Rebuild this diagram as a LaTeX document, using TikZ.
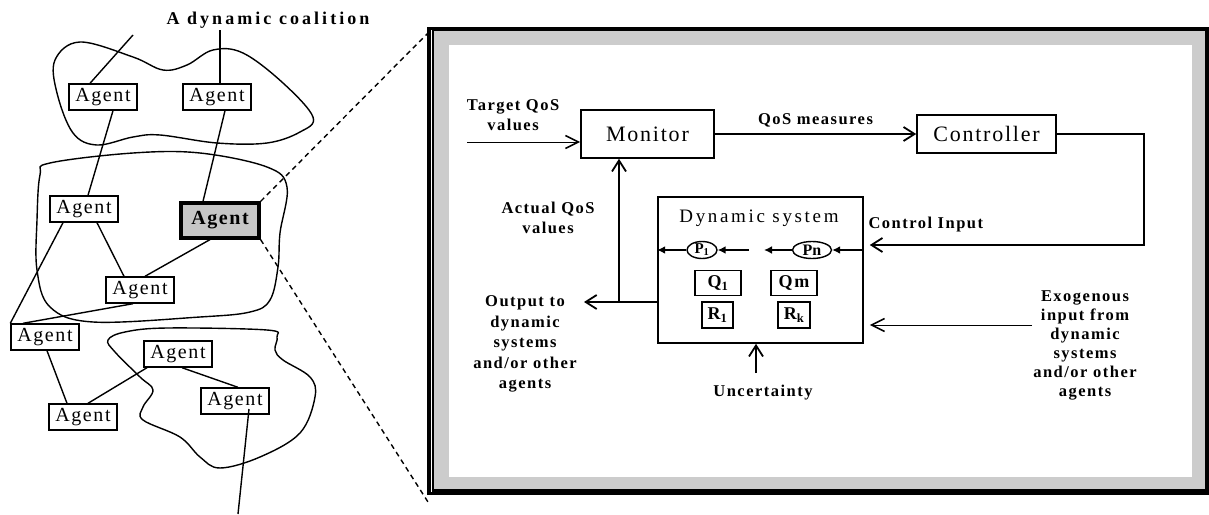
\documentclass[tikz,border=0pt]{standalone}
\usepackage{fontspec}
\setmainfont{Liberation Serif}
\newfontfamily\agfont[LetterSpace=8]{Liberation Serif}
\newfontfamily\lbfont[LetterSpace=9]{Liberation Serif}
\newfontfamily\dsfont[LetterSpace=14]{Liberation Serif}
\newfontfamily\ttlfont[LetterSpace=17]{Liberation Serif}
\usetikzlibrary{arrows.meta,shapes.geometric}

\begin{document}
\begin{tikzpicture}[x=1pt, y=-1pt,
    agent/.style={draw, line width=1.4pt, fill=white, inner sep=0pt, minimum width=68pt, minimum height=26pt, font=\agfont\fontsize{20}{22}\selectfont},
    link/.style={line width=1.4pt},
    blob/.style={line width=1.4pt},
    block/.style={draw, line width=1.6pt, inner sep=0pt, font=\agfont\fontsize{22}{24}\selectfont},
    lbl/.style={align=center, font=\lbfont\bfseries\fontsize{16.5}{20.5}\selectfont},
    par/.style={draw, line width=1.4pt, inner sep=0pt, font=\lbfont\bfseries\fontsize{18}{19}\selectfont},
    arr/.style={line width=1.8pt, -{Straight Barb[length=11pt,width=14pt,line width=1.8pt]}},
    thinarr/.style={line width=1pt, -{Straight Barb[length=13pt,width=13pt,line width=1.6pt]}},
    flow/.style={line width=1.8pt, -{Latex[length=8pt,width=8pt]}}]
    \useasboundingbox (0,0) rectangle (1209,514);

    % left half: coalitions of agents
    \node[font=\ttlfont\bfseries\fontsize{18}{20}\selectfont] (title) at (268,20) {A dynamic coalition};

    \draw[blob] plot[smooth cycle, tension=0.6] coordinates {(55,60) (80,42) (133,57) (163,70) (187,65) (213,50) (243,53) (283,83) (313,117) (300,132) (267,143) (217,143) (160,135) (133,137) (97,145) (73,133) (57,93)};
    \draw[blob] plot[smooth cycle, tension=0.6] coordinates {(40,175) (50,163) (133,153) (200,153) (267,167) (287,187) (280,233) (278,267) (270,300) (250,312) (200,317) (93,322) (50,307) (37,270) (37,220)};
    \draw[blob] plot[smooth cycle, tension=0.6] coordinates {(108,340) (125,332) (167,328) (267,330) (277,337) (275,350) (283,360) (310,377) (315,397) (300,433) (260,457) (220,468) (200,457) (180,437) (143,420) (143,407) (153,390) (140,377) (115,352)};

    \coordinate (in1) at (133,35);
    \coordinate (in2) at (220,30);
    \coordinate (out1) at (238,514);

    \node[agent] (ta) at (103,97) {Agent};
    \node[agent] (tb) at (217,97) {Agent};
    \node[agent] (ma) at (84,209) {Agent};
    \node[agent, fill=gray!45, line width=3.2pt, minimum width=78pt, minimum height=35pt, font=\agfont\bfseries\fontsize{20}{22}\selectfont] (hl) at (220,220.5) {Agent};
    \node[agent] (mb) at (140,290) {Agent};
    \node[agent] (la) at (45,337) {Agent};
    \node[agent] (bl) at (83,417) {Agent};
    \node[agent] (ba) at (178,354) {Agent};
    \node[agent] (bb) at (235,401) {Agent};

    \draw[link] ([xshift=-13pt]ta.north) -- (in1);
    \draw[link] ([xshift=3pt]tb.north) -- (in2);
    \draw[link] ([xshift=10pt]ta.south) -- ([xshift=4pt]ma.north);
    \draw[link] ([xshift=8pt]tb.south) -- ([xshift=-17pt]hl.north);
    \draw[link] ([xshift=-21pt]ma.south) -- (la.north west);
    \draw[link] ([xshift=13pt]ma.south) -- ([xshift=-16pt]mb.north);
    \draw[link] ([xshift=-10pt]hl.south) -- ([xshift=5pt]mb.north);
    \draw[link] ([xshift=-7pt]mb.south) -- ([xshift=-22pt]la.north);
    \draw[link] ([xshift=2pt]la.south) -- ([xshift=-16pt]bl.north);
    \draw[link] ([xshift=5pt]bl.north) -- ([xshift=-31pt]ba.south);
    \draw[link] ([xshift=4pt]ba.south) -- ([xshift=3pt]bb.north);
    \draw[link] ([xshift=14pt,yshift=-8pt]bb.center) -- (out1);

    % zoom frame
    \coordinate (fa) at (427,27);
    \coordinate (fb) at (1209,495);
    \fill[black] (fa) rectangle (fb);
    \fill[gray!40] (434,31) rectangle (1205,489);
    \draw[white, line width=1pt] (431,30) -- (431,492);
    \fill[white] (449,45) rectangle (1192,477);

    \draw[link, dashed, dash pattern=on 5pt off 4pt] (hl.north east) -- (428,33);
    \draw[link, dashed, dash pattern=on 5pt off 4pt] (hl.south east) -- (428,502);

    % right half: control loop
    \node[block, minimum width=133pt, minimum height=48pt] (mon) at (647.5,134) {Monitor};
    \node[block, minimum width=139pt, minimum height=38pt] (ctl) at (986.5,134) {Controller};
    \node[block, minimum width=205pt, minimum height=146pt] (dyn) at (760.5,270) {};
    \node[font=\dsfont\fontsize{19}{21}\selectfont] (dname) at (759,218) {Dynamic system};

    \node[ellipse, draw, line width=1.4pt, inner sep=0pt, minimum width=30pt, minimum height=17pt, font=\bfseries\fontsize{15}{16}\selectfont] (p1) at (702,250) {P\textsubscript{1}};
    \node[ellipse, draw, line width=1.4pt, inner sep=0pt, minimum width=39pt, minimum height=17pt, font=\bfseries\fontsize{16}{17}\selectfont] (pn) at (812,250) {Pn};
    \coordinate (g1) at (764,250);
    \coordinate (g2) at (749,250);

    \node[par, minimum width=46pt, minimum height=25pt] (q1) at (718,283) {Q\textsubscript{1}};
    \node[par, minimum width=46pt, minimum height=25pt] (qm) at (794,283) {Qm};
    \node[par, minimum width=31pt, minimum height=26pt] (r1) at (717.5,315) {R\textsubscript{1}};
    \node[par, minimum width=32pt, minimum height=26pt] (rk) at (794,315) {R\textsubscript{k}};

    \draw[flow] ([yshift=20pt]dyn.east) -- (pn.east);
    \draw[flow] (pn.west) -- (g1);
    \draw[flow] (g2) -- (p1.east);
    \draw[flow] (p1.west) -- ([yshift=20pt]dyn.west);

    \node[lbl] (tgt) at (513,115) {Target QoS\\values};
    \coordinate (tin) at (467,142);
    \draw[thinarr] (tin) -- (tin -| mon.west);

    \draw[arr] (mon.east) -- (ctl.west) node[lbl, midway, above=3pt] (qos) {QoS measures};
    \draw[arr, shorten >=6pt] (ctl.east) -- ++(87,0) |- ([yshift=25pt]dyn.east);
    \node[lbl, anchor=west] (cin) at (865,225) {Control Input};

    \coordinate (fbk) at (619,302);
    \coordinate (outp) at (584,302);
    \draw[arr] ([yshift=-32pt]dyn.west) -- (outp);
    \draw[arr] (fbk) -- (fbk |- mon.south);
    \node[lbl] (act) at (548,218) {Actual QoS\\values};
    \node[lbl] (outl) at (525,344) {Output to\\dynamic\\systems\\and/or other\\agents};

    \coordinate (unc) at (756,373);
    \draw[arr] (unc) -- (unc |- dyn.south);
    \node[lbl] (uncl) at (763,393) {Uncertainty};

    \coordinate (exo) at (1032,325);
    \draw[thinarr, shorten >=6pt] (exo) -- (exo -| dyn.east);
    \node[lbl, font=\lbfont\bfseries\fontsize{16.5}{19}\selectfont] (exol) at (1085,345) {Exogenous\\input from\\dynamic\\systems\\and/or other\\agents};
\end{tikzpicture}
\end{document}
